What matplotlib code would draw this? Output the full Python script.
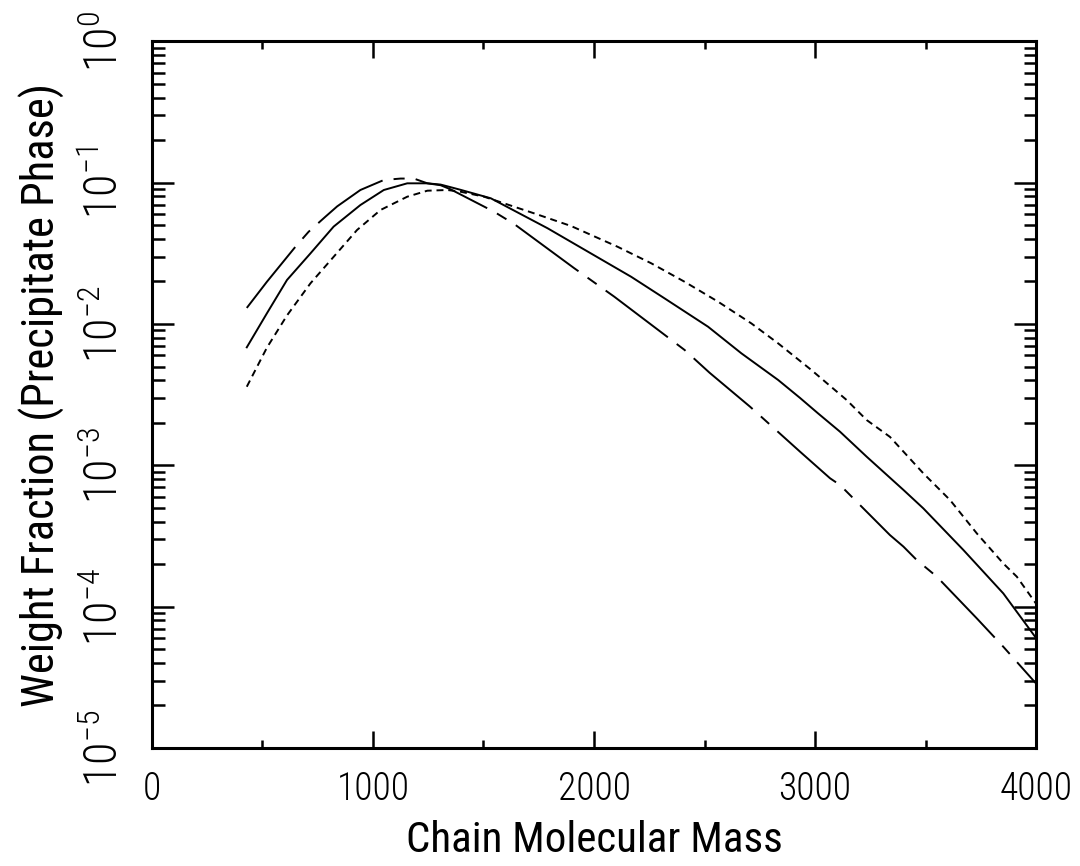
import matplotlib
matplotlib.use("Agg")
import matplotlib.pyplot as plt
from matplotlib.ticker import LogLocator, FixedLocator, NullFormatter, MultipleLocator

# Chain molecular mass and weight fraction in the precipitate phase
mass_short = [429, 520, 611, 717, 822, 928, 1034, 1155, 1246, 1337, 1397, 1503,
              1729, 1896, 2107, 2259, 2410, 2561, 2712, 2833, 2984, 3143, 3234,
              3339, 3490, 3611, 3732, 3852, 3913, 4000]
frac_short = [0.0036, 0.0068, 0.0115, 0.0194, 0.0299, 0.0463, 0.0641, 0.0796,
              0.0878, 0.0888, 0.0863, 0.0796, 0.0607, 0.0494, 0.0352, 0.0269,
              0.0199, 0.0144, 0.0101, 0.0073, 0.00472, 0.0029, 0.00209, 0.00159,
              0.000878, 0.000568, 0.00033, 0.000202, 0.000163, 0.000105]

mass_solid = [429, 520, 611, 717, 822, 943, 1049, 1155, 1246, 1306, 1351, 1397,
              1533, 1790, 1986, 2168, 2319, 2516, 2667, 2833, 2932, 3014, 3113,
              3234, 3400, 3490, 3671, 3852, 4000]
frac_solid = [0.00684, 0.0119, 0.0205, 0.0316, 0.0489, 0.0695, 0.0888, 0.099,
              0.099, 0.097, 0.093, 0.089, 0.0776, 0.0476, 0.0316, 0.0216, 0.0152,
              0.00957, 0.0062, 0.00402, 0.0030, 0.00233, 0.00173, 0.00115,
              0.00067, 0.000496, 0.000252, 0.000124, 0.00006]

mass_long = [429, 520, 649, 709, 785, 838, 943, 1049, 1125, 1185, 1246, 1306,
             1351, 1548, 1639, 1911, 2092, 2410, 2523, 2706, 2932, 3068, 3113,
             3339, 3400, 3460, 3551, 3732, 3852, 4000]
frac_long = [0.0130, 0.0199, 0.0352, 0.045, 0.0575, 0.068, 0.0888, 0.1045,
             0.107, 0.107, 0.099, 0.096, 0.0898, 0.0623, 0.051, 0.0248, 0.0156,
             0.00655, 0.00452, 0.0026, 0.00125, 0.00081, 0.000726, 0.000321,
             0.000266, 0.000214, 0.000163, 0.0000826, 0.000052, 0.0000286]

x_ticks = [0, 1000, 2000, 3000, 4000]
x_ticklabels = ["0", "1000", "2000", "3000", "4000"]
y_ticks = [1e-5, 1e-4, 1e-3, 1e-2, 1e-1, 1e0]
y_ticklabels = [r"$\mathregular{10^{-5}}$", r"$\mathregular{10^{-4}}$",
                r"$\mathregular{10^{-3}}$", r"$\mathregular{10^{-2}}$",
                r"$\mathregular{10^{-1}}$", r"$\mathregular{10^{0}}$"]

plt.rcParams["font.family"] = ["Roboto Condensed", "Roboto", "DejaVu Sans"]
plt.rcParams["font.weight"] = "light"
plt.rcParams["mathtext.fontset"] = "custom"
plt.rcParams["mathtext.rm"] = "Roboto Condensed:light"
plt.rcParams["lines.scale_dashes"] = False

fig = plt.figure(figsize=(10.8, 8.66), dpi=100)
ax = fig.add_axes([0.1407, 0.1363, 0.8186, 0.8159])

lw = 1.4
ax.plot(mass_short, frac_short, color="black", lw=lw, linestyle=(0, (5, 3.5)))
ax.plot(mass_solid, frac_solid, color="black", lw=lw, linestyle="-")
ax.plot(mass_long, frac_long, color="black", lw=lw, linestyle=(0, (56, 8, 8, 8)))

ax.set_yscale("log")
ax.set_xlim(0, 4000)
ax.set_ylim(1e-5, 1)

ax.xaxis.set_major_locator(FixedLocator(x_ticks))
ax.set_xticklabels(x_ticklabels)
ax.xaxis.set_minor_locator(MultipleLocator(500))
ax.yaxis.set_major_locator(FixedLocator(y_ticks))
ax.set_yticklabels(y_ticklabels, rotation=90, va="center")
ax.yaxis.set_minor_locator(LogLocator(base=10, subs=range(2, 10), numticks=20))
ax.yaxis.set_minor_formatter(NullFormatter())

ax.tick_params(which="both", direction="in", top=True, right=True, width=1.8)
ax.tick_params(axis="x", which="major", length=12, labelsize=27, pad=16)
ax.tick_params(axis="x", which="minor", length=6)
ax.tick_params(axis="y", which="major", length=16, labelsize=33, pad=18)
ax.tick_params(axis="y", which="minor", length=9)

for s in ax.spines.values():
    s.set_linewidth(2.2)

ax.set_xlabel("Chain Molecular Mass", fontsize=31, labelpad=9)
ax.set_ylabel("Weight Fraction (Precipitate Phase)", fontsize=32, labelpad=12)

fig.savefig("out.png", dpi=100)
